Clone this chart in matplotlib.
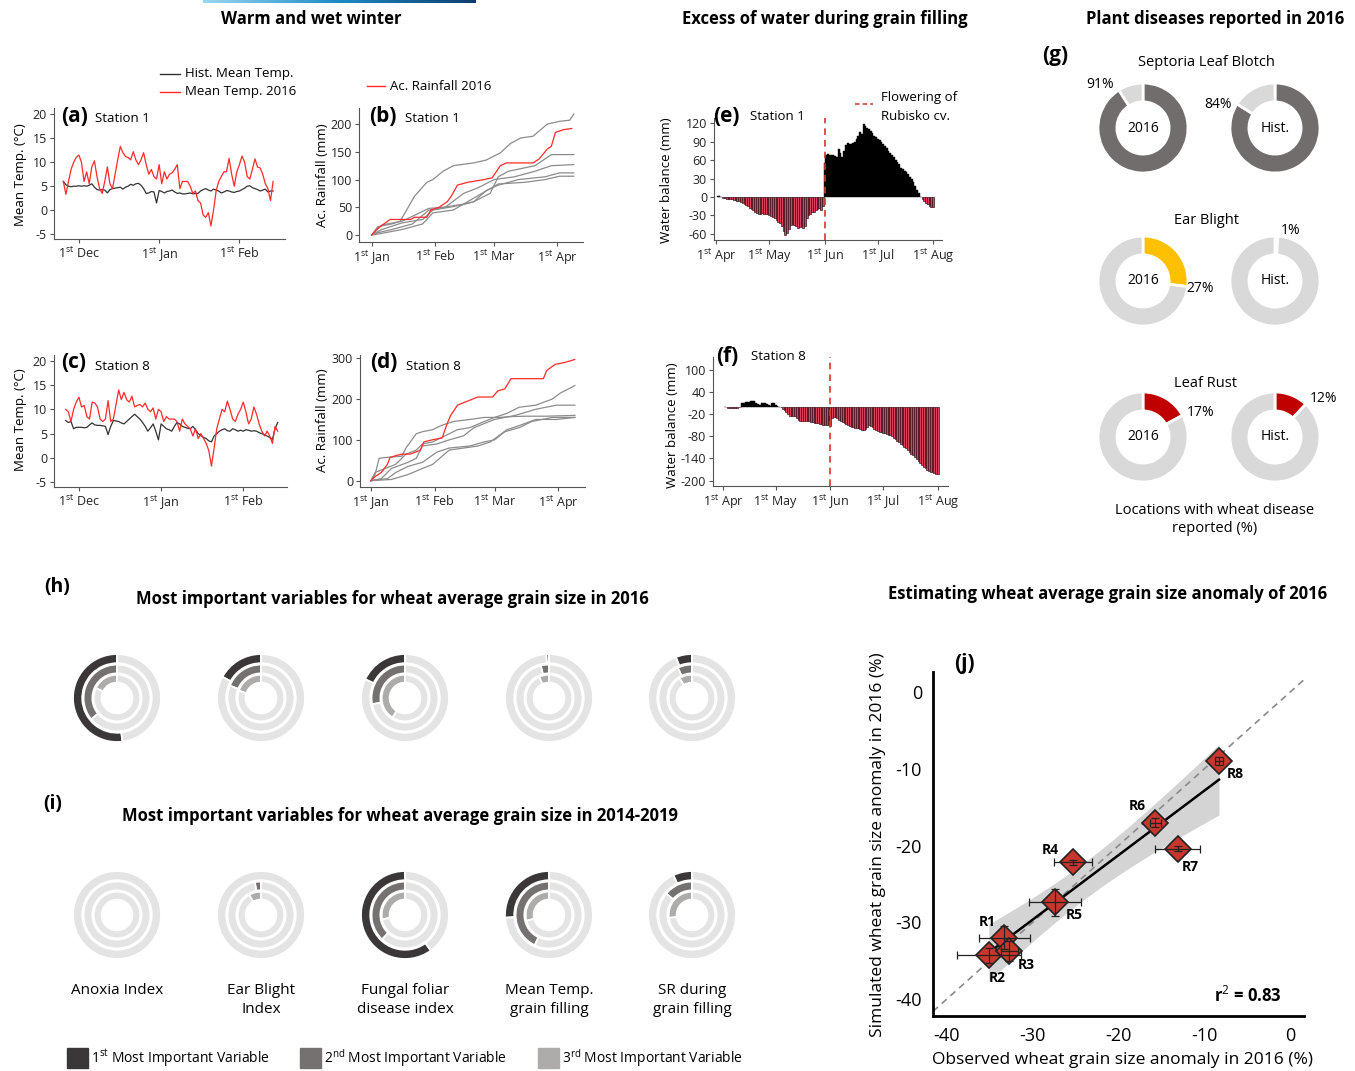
import numpy as np
import matplotlib
matplotlib.use('Agg')
import matplotlib.pyplot as plt
from matplotlib.lines import Line2D
from matplotlib.patches import Rectangle
from matplotlib.colors import LinearSegmentedColormap

plt.rcParams['font.family'] = ['Open Sans', 'DejaVu Sans']
plt.rcParams['mathtext.fontset'] = 'custom'
plt.rcParams['mathtext.rm'] = 'Open Sans'
plt.rcParams['mathtext.bf'] = 'Open Sans:bold'
plt.rcParams['axes.unicode_minus'] = False

# ---------------- data ----------------
# (a) station 1 mean temperature, days counted from 1st Dec
temp_days_st1 = list(range(-6, 76))
temp2016_st1 = [6, 3.3, 6, 8.5, 10, 11, 11.5, 10, 6, 8, 5.5, 9, 10.3, 7, 4.5, 3.5, 6, 9, 5.5, 4.5,
                7.5, 10.5, 13.3, 12, 11.2, 11, 10.5, 12.2, 10.5, 9.5, 10.5, 12, 9.5, 7.5, 8.5, 7,
                6.5, 9.5, 5.5, 8, 6.5, 7.5, 7.8, 8.5, 9.5, 4.5, 6, 6, 6, 5, 3.5, 4, 2, 1.5, -1,
                -1.5, -0.5, -3.3, 0, 4, 6, 7, 8, 8, 10.8, 7.5, 5, 8, 9.5, 11.3, 10, 7, 6.5, 8.5,
                10.7, 9, 8.8, 7.5, 5.5, 4.5, 2, 6]
temphist_st1 = [6, 5.3, 5, 4.9, 5, 5, 5.1, 5, 5.1, 5, 5.2, 5.5, 4.8, 4.3, 4.2, 4.3, 4.2, 3.6, 4.3,
                4.5, 4.6, 4.7, 4.8, 4.4, 4.8, 5, 5.4, 5.2, 5.5, 5.6, 5.2, 4.5, 3.5, 3.6, 3.9, 3.8,
                1.5, 4.1, 3.9, 3.6, 3.9, 4.0, 4.2, 3.8, 3.5, 3.6, 3.4, 3.4, 3.5, 3.6, 3.4, 3.5,
                3.5, 4, 4.3, 4.5, 4.2, 4.0, 4.4, 4.2, 4.0, 3.6, 3.8, 4.1, 4, 3.8, 3.7, 3.9, 4,
                4.3, 4.6, 5.0, 5.1, 4.7, 4.5, 4.3, 4.0, 4.2, 4.4, 3.8, 4.0, 4.0]
# (c) station 8
temp_days_st8 = list(range(-5, 76))
temp2016_st8 = [10, 9.5, 7.5, 10, 11.5, 12.5, 10.5, 10.8, 8.5, 8, 11.5, 11.3, 10.5, 8, 7.5, 8,
                11.8, 7.5, 8, 11, 14, 12, 13.5, 12, 11.5, 12.7, 10.5, 10.8, 11, 10.5, 11.3, 10,
                9.5, 10.3, 8, 10, 9.5, 7.5, 8.5, 8, 8, 8, 7.5, 5.5, 8, 7, 6.5, 6, 4.5, 6, 4, 5,
                4, 3, 1.5, -1.7, 2, 6, 8, 10, 9.5, 11.7, 10, 8, 7.5, 9, 10, 11.5, 9.5, 7, 8, 10.5,
                9, 7, 5.5, 4.5, 5.5, 4.5, 3, 6.5, 5.5]
temphist_st8 = [7.7, 7.3, 7.5, 6.0, 6.3, 6.3, 6.3, 6.2, 6.3, 6.8, 7.2, 6.8, 6.7, 6.7, 6.6, 6.5,
                4.8, 6.5, 7.7, 7.6, 7.5, 7.2, 7, 7.5, 8, 8.5, 9, 8.5, 8, 7.3, 6.5, 5.5, 6.2, 7,
                5.5, 3.7, 7, 6.5, 6, 5.8, 5.5, 6.5, 7.3, 7, 6.5, 6.3, 6.1, 6, 6.5, 5.8, 5, 4.6,
                4.2, 4, 3.5, 3.3, 4.5, 5, 5.5, 5.8, 6, 5.6, 5.5, 6, 5.8, 5.5, 5.7, 5.5, 5.8, 5.7,
                5.5, 5.6, 5.5, 5.2, 5, 4.8, 4.5, 4.2, 3.8, 6, 7.3]

# (b) station 1 accumulated rainfall, days counted from 1st Jan
rain2016_st1_days = [0, 3, 9, 19, 21, 27, 29, 33, 37, 39, 42, 47, 55, 59, 63, 66, 79, 82, 86, 88, 90, 94, 98]
rain2016_st1_mm = [0, 12, 28, 28, 32, 32, 45, 50, 60, 70, 90, 95, 100, 103, 125, 130, 130, 137, 155, 160, 185, 190, 192]
rainhist_st1_days = [[0, 3, 10, 14, 21, 27, 30, 35, 40, 50, 56, 63, 68, 73, 79, 86, 92, 97, 99],
                     [0, 5, 15, 28, 35, 44, 50, 58, 62, 67, 80, 88, 99],
                     [0, 4, 10, 20, 28, 36, 45, 52, 60, 70, 80, 88, 99],
                     [0, 5, 15, 25, 30, 38, 45, 50, 56, 62, 72, 85, 92, 99],
                     [0, 5, 15, 25, 30, 40, 46, 62, 75, 85, 92, 99]]
rainhist_st1_mm = [[0, 15, 20, 25, 70, 95, 100, 115, 125, 130, 135, 148, 165, 175, 178, 200, 205, 207, 218],
                   [0, 18, 25, 48, 50, 55, 60, 75, 105, 115, 125, 145, 145],
                   [0, 5, 10, 20, 45, 50, 75, 85, 100, 105, 115, 125, 127],
                   [0, 10, 22, 28, 45, 50, 55, 60, 80, 90, 100, 105, 112, 112],
                   [0, 3, 10, 20, 40, 45, 58, 92, 95, 100, 106, 106]]
# (d) station 8
rain2016_st8_days = [0, 2, 5, 8, 9.3, 12.6, 15, 19, 21.6, 24, 25.7, 29.7, 34.6, 37, 38.7, 42, 46.9, 51.8,
                     59, 61.6, 65, 68, 83.7, 85.3, 89.4, 94.3, 98.9]
rain2016_st8_mm = [0, 10, 20, 40, 57, 62, 65, 65, 70, 75, 95, 100, 105, 140, 160, 185, 195, 205,
                   205, 220, 225, 250, 250, 270, 285, 290, 297]
rainhist_st8_days = [[0, 2, 12, 15, 17, 22, 25, 30, 36, 42, 48, 55, 60, 66, 72, 80, 88, 92, 99],
                     [0, 2, 4, 10, 15, 17, 22, 25, 30, 34, 40, 48, 55, 62, 68, 75, 85, 99],
                     [0, 5, 10, 18, 22, 25, 32, 38, 45, 50, 55, 60, 70, 80, 90, 99],
                     [0, 8, 12, 18, 25, 32, 38, 48, 55, 60, 65, 72, 78, 88, 99],
                     [0, 10, 18, 25, 30, 38, 45, 52, 58, 62, 66, 72, 80, 90, 99]]
rainhist_st8_mm = [[0, 20, 40, 55, 65, 75, 90, 95, 110, 125, 130, 145, 155, 165, 180, 185, 200, 215, 233],
                   [0, 15, 55, 58, 60, 80, 115, 120, 125, 135, 145, 150, 155, 155, 157, 158, 158, 160],
                   [0, 5, 30, 45, 55, 85, 90, 100, 110, 130, 140, 150, 160, 175, 185, 185],
                   [0, 5, 20, 35, 45, 70, 80, 85, 95, 100, 120, 130, 145, 155, 155],
                   [0, 3, 15, 30, 40, 75, 80, 85, 95, 110, 125, 135, 150, 150, 155]]

# (e)/(f) daily water balance, days counted from 1st Apr
wb_days = list(range(1, 123))
wb_st1 = [2, 1, 0, -1, -2, -3, -3, -4, -4, -5,
          -5, -6, -7, -8, -9, -11, -13, -15, -18, -20,
          -22, -24, -26, -27, -27, -26, -27, -28, -27, -30,
          -31, -33, -35, -37, -40, -42, -48, -55, -62, -59,
          -52, -45, -44, -46, -48, -50, -49, -47, -50, -48,
          -35, -30, -28, -25, -24, -22, -20, -18, -21, -15,
          55, 68, 70, 69, 69, 68, 66, 65, 78, 72,
          65, 75, 84, 88, 87, 87, 88, 90, 95, 100,
          105, 103, 118, 116, 113, 110, 107, 104, 100, 98,
          95, 92, 89, 86, 83, 80, 75, 72, 68, 65,
          60, 57, 53, 47, 45, 42, 40, 37, 33, 30,
          25, 18, 12, 6, 0, -3, -6, -9, -12, -14,
          -16, -17]
wb_st8 = [0, -1, -3, -3, -4, -5, -5, -4, -2, -1,
          10, 11, 12, 12, 13, 14, 15, 14, 10, 6,
          5, 10, 10, 9, 8, 4, 2, 10, 9, 5,
          2, 0, -2, -6, -10, -15, -20, -25, -25, -25,
          -26, -30, -35, -38, -39, -40, -40, -38, -39, -42,
          -42, -43, -44, -45, -46, -48, -50, -50, -50, -51,
          -52, -30, -28, -29, -32, -35, -38, -42, -45, -47,
          -50, -52, -55, -56, -57, -58, -58, -60, -62, -62,
          -60, -55, -50, -52, -56, -60, -63, -66, -68, -69,
          -70, -72, -74, -76, -78, -80, -84, -88, -92, -96,
          -100, -104, -108, -112, -117, -122, -127, -132, -137, -142,
          -147, -152, -157, -162, -166, -170, -173, -176, -178, -180,
          -182, -183]
flowering_day = 61

# (g) share of locations with disease reported (%)
disease_names = ['Septoria Leaf Blotch', 'Ear Blight', 'Leaf Rust']
disease_2016 = [91, 27, 17]
disease_hist = [84, 1, 12]

# (h)/(i) importance rings: share of 1st/2nd/3rd most important variable
variables = ['Anoxia Index', 'Ear Blight\nIndex', 'Fungal foliar\ndisease index',
             'Mean Temp.\ngrain filling', 'SR during\ngrain filling']
first_2016 = [0.52, 0.17, 0.18, 0.01, 0.06]
second_2016 = [0.36, 0.19, 0.28, 0.04, 0.07]
third_2016 = [0.18, 0.20, 0.41, 0.07, 0.09]
first_1419 = [0.0, 0.0, 0.60, 0.26, 0.07]
second_1419 = [0.0, 0.03, 0.38, 0.43, 0.14]
third_1419 = [0.0, 0.085, 0.28, 0.29, 0.27]

# (j) observed vs simulated grain size anomaly (%)
regions = ['R1', 'R2', 'R3', 'R4', 'R5', 'R6', 'R7', 'R8']
observed = [-33.3, -35.1, -32.7, -25.3, -27.4, -15.7, -13.1, -8.3]
simulated = [-32.0, -34.3, -33.7, -22.2, -27.4, -17.0, -20.4, -9.0]
observed_err = [3.0, 3.7, 1.0, 2.2, 3.0, 0.6, 2.6, 0.5]
simulated_err = [1.5, 1.0, 1.3, 0.3, 1.8, 0.6, 0.3, 0.5]

# ---------------- figure ----------------
W, H = 1355, 1071
fig = plt.figure(figsize=(W / 100, H / 100), dpi=100)


def px_axes(x0, y0, x1, y1):
    return fig.add_axes([x0 / W, 1 - y1 / H, (x1 - x0) / W, (y1 - y0) / H])


def ftext(x, y, s, **kw):
    return fig.text(x / W, 1 - y / H, s, **kw)


def fline(x0, x1, y, **kw):
    fig.add_artist(Line2D([x0 / W, x1 / W], [1 - y / H, 1 - y / H], **kw))


def sup(n, sfx, word):
    return '%d$^{\\mathrm{%s}}$ %s' % (n, sfx, word)


def style_small(ax):
    for s in ['top', 'right']:
        ax.spines[s].set_visible(False)
    for s in ['left', 'bottom']:
        ax.spines[s].set_color('#555555')
        ax.spines[s].set_linewidth(0.8)
    ax.tick_params(length=3, width=0.8, color='#555555', labelsize=9, pad=2, labelcolor='#222222')


RED = '#ff2a2a'
DARK = '#333333'
GREY = '#8c8c8c'
TITLE = 12

# header bar
gax = px_axes(203, 0, 475, 3)
grad = LinearSegmentedColormap.from_list('g', ['#9ad8f2', '#1c8ac6', '#0e3d6e'])
gax.imshow(np.linspace(0, 1, 256)[None, :], aspect='auto', cmap=grad)
gax.axis('off')

ftext(311, 19, 'Warm and wet winter', ha='center', va='center', fontsize=TITLE, fontweight='bold')
ftext(825, 19, 'Excess of water during grain filling', ha='center', va='center', fontsize=TITLE, fontweight='bold')
ftext(1215, 19, 'Plant diseases reported in 2016', ha='center', va='center', fontsize=TITLE, fontweight='bold')

# (a) and (c)
temp_panels = [((54, 108, 285, 239), temp_days_st1, temp2016_st1, temphist_st1, (-9.6, 79.6), (-6, 21.3), '(a)', 'Station 1', 175),
               ((54, 355, 287, 487), temp_days_st8, temp2016_st8, temphist_st8, (-9.4, 78.5), (-6, 21.2), '(c)', 'Station 8', 420)]
for box, days, t16, thist, xl, yl, lab, st, ymid in temp_panels:
    ax = px_axes(*box)
    ax.plot(days, thist, color=DARK, lw=0.9)
    ax.plot(days, t16, color=RED, lw=0.9)
    ax.set_xlim(*xl)
    ax.set_ylim(*yl)
    ax.set_yticks([20, 15, 10, 5, 0, -5])
    ax.set_xticks([0, 31, 62])
    ax.set_xticklabels([sup(1, 'st', 'Dec'), sup(1, 'st', 'Jan'), sup(1, 'st', 'Feb')])
    style_small(ax)
    ftext(box[0] + 7, box[1] + 8, lab, ha='left', va='center', fontsize=15, fontweight='bold')
    ftext(box[0] + 41, box[1] + 11, st, ha='left', va='center', fontsize=9.5)
    ftext(21, ymid, 'Mean Temp. (°C)', rotation=90, ha='center', va='center', fontsize=9.5)

fline(160, 180, 74, color=DARK, lw=1)
ftext(185, 74, 'Hist. Mean Temp.', ha='left', va='center', fontsize=9.5)
fline(160, 180, 92, color=RED, lw=1)
ftext(185, 92, 'Mean Temp. 2016', ha='left', va='center', fontsize=9.5)

# (b) and (d)
rain_panels = [((359, 108, 583, 242), rain2016_st1_days, rain2016_st1_mm, rainhist_st1_days, rainhist_st1_mm,
                (-6.2, 103.5), (-12.6, 229), [0, 50, 100, 150, 200], '(b)', 'Station 1', 175),
               ((360, 355, 585, 487), rain2016_st8_days, rain2016_st8_mm, rainhist_st8_days, rainhist_st8_mm,
                (-5.3, 103.9), (-15.5, 308), [0, 100, 200, 300], '(d)', 'Station 8', 420)]
for box, d16, r16, dh, rh, xl, yl, yt, lab, st, ymid in rain_panels:
    ax = px_axes(*box)
    for dd, rr in zip(dh, rh):
        ax.plot(dd, rr, color=GREY, lw=0.9)
    ax.plot(d16, r16, color=RED, lw=0.9)
    ax.set_xlim(*xl)
    ax.set_ylim(*yl)
    ax.set_yticks(yt)
    ax.set_xticks([0, 31, 60, 91])
    ax.set_xticklabels([sup(1, 'st', 'Jan'), sup(1, 'st', 'Feb'), sup(1, 'st', 'Mar'), sup(1, 'st', 'Apr')])
    style_small(ax)
    ftext(box[0] + 10, box[1] + 8, lab, ha='left', va='center', fontsize=15, fontweight='bold')
    ftext(box[0] + 46, box[1] + 11, st, ha='left', va='center', fontsize=9.5)
    ftext(322, ymid, 'Ac. Rainfall (mm)', rotation=90, ha='center', va='center', fontsize=9.5)

fline(367, 385, 86, color=RED, lw=1)
ftext(390, 86, 'Ac. Rainfall 2016', ha='left', va='center', fontsize=9.5)

# (e) and (f)
wb_panels = [((714, 118, 942, 240), wb_st1, (-1.1, 127), (-70, 128.5), [120, 90, 60, 30, 0, -30, -60], 666, 180),
             ((713, 357, 948, 486), wb_st8, (-5.6, 127.8), (-214.5, 134), [100, 40, -20, -80, -140, -200], 672, 425)]
for box, wb, xl, yl, yt, xlab, ymid in wb_panels:
    ax = px_axes(*box)
    wb = np.array(wb)
    pos = wb >= 0
    ax.bar(np.array(wb_days)[pos], wb[pos], width=1.0, color='black', edgecolor='black', linewidth=0.3)
    ax.bar(np.array(wb_days)[~pos], wb[~pos], width=1.0, color='#d8405e', edgecolor='#2a0a10', linewidth=0.45)
    ax.axvline(flowering_day, color='#e03030', ls=(0, (4, 3)), lw=1.2)
    ax.set_xlim(*xl)
    ax.set_ylim(*yl)
    ax.set_yticks(yt)
    ax.set_xticks([0, 30, 61, 91, 122])
    ax.set_xticklabels([sup(1, 'st', 'Apr'), sup(1, 'st', 'May'), sup(1, 'st', 'Jun'), sup(1, 'st', 'Jul'), sup(1, 'st', 'Aug')])
    style_small(ax)
    ftext(xlab, ymid, 'Water balance (mm)', rotation=90, ha='center', va='center', fontsize=9.5)

ftext(713, 116, '(e)', ha='left', va='center', fontsize=15, fontweight='bold')
ftext(750, 116, 'Station 1', ha='left', va='center', fontsize=9.5)
ftext(716, 357, '(f)', ha='left', va='center', fontsize=15, fontweight='bold')
ftext(751, 357, 'Station 8', ha='left', va='center', fontsize=9.5)
fline(855, 873, 104, color='#e03030', lw=1.1, ls=(0, (3, 2)))
ftext(881, 98, 'Flowering of', ha='left', va='center', fontsize=9.5)
ftext(881, 116, 'Rubisko cv.', ha='left', va='center', fontsize=9.5)

# (g) donuts
ftext(1055, 55, '(g)', ha='center', va='center', fontsize=15, fontweight='bold')
donut_colors = ['#716d6c', '#ffc000', '#c00000']
donut_rows = [128, 281, 437]
title_rows = [62, 221, 383]
pct_2016_pos = [(1100, 85), (1200, 289), (1201, 413)]
pct_hist_pos = [(1218, 105), (1291, 230), (1324, 399)]
for i, name in enumerate(disease_names):
    ftext(1206, title_rows[i], name, ha='center', va='center', fontsize=10.5)
    for cx, val, ctext, ppos in [(1143, disease_2016[i], '2016', pct_2016_pos[i]),
                                 (1275, disease_hist[i], 'Hist.', pct_hist_pos[i])]:
        cy = donut_rows[i]
        ax = px_axes(cx - 48, cy - 48, cx + 48, cy + 48)
        ax.pie([val, 100 - val], radius=1, colors=[donut_colors[i], '#d9d9d9'], startangle=90,
               counterclock=False, wedgeprops=dict(width=0.42, edgecolor='white', linewidth=2))
        ax.set_xlim(-48 / 45, 48 / 45)
        ax.set_ylim(-48 / 45, 48 / 45)
        ax.set_aspect('equal')
        ax.axis('off')
        ax.text(0, 0, ctext, ha='center', va='center', fontsize=10)
        ftext(ppos[0], ppos[1], '%d%%' % val, ha='center', va='center', fontsize=10)
ftext(1215, 510, 'Locations with wheat disease', ha='center', va='center', fontsize=10.5)
ftext(1215, 529, 'reported (%)', ha='center', va='center', fontsize=10.5)

# (h) and (i) importance rings
imp_colors = ['#3b3738', '#757171', '#aeabab']
ring_x = [117, 261, 405, 549, 692]


def ring_chart(cx, cy, fracs):
    ax = px_axes(cx - 50, cy - 50, cx + 50, cy + 50)
    for f, r, w, c in zip(fracs, [1.0, 0.76, 0.53], [0.21, 0.2, 0.18], imp_colors):
        ax.pie([f, 1 - f], radius=r, colors=[c, '#e4e4e4'], startangle=90, counterclock=True,
               wedgeprops=dict(width=w, edgecolor='white', linewidth=1.3))
    ax.set_xlim(-50 / 44, 50 / 44)
    ax.set_ylim(-50 / 44, 50 / 44)
    ax.set_aspect('equal')
    ax.axis('off')


for k in range(5):
    ring_chart(ring_x[k], 698, [first_2016[k], second_2016[k], third_2016[k]])
    ring_chart(ring_x[k], 915, [first_1419[k], second_1419[k], third_1419[k]])
    ftext(ring_x[k], 983, variables[k], ha='center', va='top', fontsize=11, linespacing=1.4)

ftext(57, 587, '(h)', ha='center', va='center', fontsize=14, fontweight='bold')
ftext(392, 599, 'Most important variables for wheat average grain size in 2016', ha='center', va='center',
      fontsize=TITLE, fontweight='bold')
ftext(53, 804, '(i)', ha='center', va='center', fontsize=14, fontweight='bold')
ftext(400, 816, 'Most important variables for wheat average grain size in 2014-2019', ha='center', va='center',
      fontsize=TITLE, fontweight='bold')

leg_x = [67, 300, 538]
leg_labels = [sup(1, 'st', 'Most Important Variable'), sup(2, 'nd', 'Most Important Variable'),
              sup(3, 'rd', 'Most Important Variable')]
for x0, c, t in zip(leg_x, imp_colors, leg_labels):
    fig.add_artist(Rectangle((x0 / W, 1 - 1068 / H), 21 / W, 20 / H, color=c, transform=fig.transFigure))
    ftext(x0 + 24, 1058, t, ha='left', va='center', fontsize=10)

# (j) scatter
ftext(1108, 594, 'Estimating wheat average grain size anomaly of 2016', ha='center', va='center',
      fontsize=TITLE, fontweight='bold')
ax = px_axes(933, 672, 1304, 1016)
obs = np.array(observed)
sim = np.array(simulated)
slope, icpt = np.polyfit(obs, sim, 1)
xs = np.linspace(obs.min(), obs.max(), 100)
n = len(obs)
resid = sim - (slope * obs + icpt)
s = np.sqrt(np.sum(resid ** 2) / (n - 2))
sxx = np.sum((obs - obs.mean()) ** 2)
half = 2.447 * s * np.sqrt(1 / n + (xs - obs.mean()) ** 2 / sxx)
ax.fill_between(xs, slope * xs + icpt - half, slope * xs + icpt + half, color='#d4d4d4', lw=0, zorder=1)
ax.plot([-41.6, 1.6], [-41.6, 1.6], color='#8a8a8a', ls=(0, (4, 3)), lw=1.2, zorder=2)
ax.plot(xs, slope * xs + icpt, color='black', lw=1.8, zorder=3)
ax.plot(obs, sim, 'D', ms=13, mfc='#c8372d', mec='#222222', mew=1.2, ls='none', zorder=4)
ax.errorbar(obs, sim, xerr=observed_err, yerr=simulated_err, fmt='none', ecolor='#222222',
            elinewidth=0.9, capsize=3, capthick=0.9, zorder=5)
label_offsets = [(-12, 11), (6, -16), (12, -10), (-16, 9), (14, -9), (-13, 12), (9, -13), (11.5, -9.5)]
for r, xo, yo, off in zip(regions, observed, simulated, label_offsets):
    ax.annotate(r, (xo, yo), xytext=off, textcoords='offset points', ha='center', va='center',
                fontsize=10, fontweight='bold')
ax.set_xlim(-41.6, 1.6)
ax.set_ylim(-42.2, 2.6)
ax.set_xticks([-40, -30, -20, -10, 0])
ax.set_yticks([0, -10, -20, -30, -40])
for sp in ['top', 'right']:
    ax.spines[sp].set_visible(False)
for sp in ['left', 'bottom']:
    ax.spines[sp].set_linewidth(2)
ax.tick_params(length=0, labelsize=13, pad=8)
ax.text(0.94, 0.06, 'r$^{2}$ = 0.83', transform=ax.transAxes, ha='right', va='center', fontsize=12,
        fontweight='bold')
ftext(964, 664, '(j)', ha='center', va='center', fontsize=15, fontweight='bold')
ftext(878, 845, 'Simulated wheat grain size anomaly in 2016 (%)', rotation=90, ha='center', va='center',
      fontsize=12.5)
ftext(1122, 1068, 'Observed wheat grain size anomaly in 2016 (%)', ha='center', va='bottom', fontsize=12.5)

fig.savefig('out.png', dpi=100)
